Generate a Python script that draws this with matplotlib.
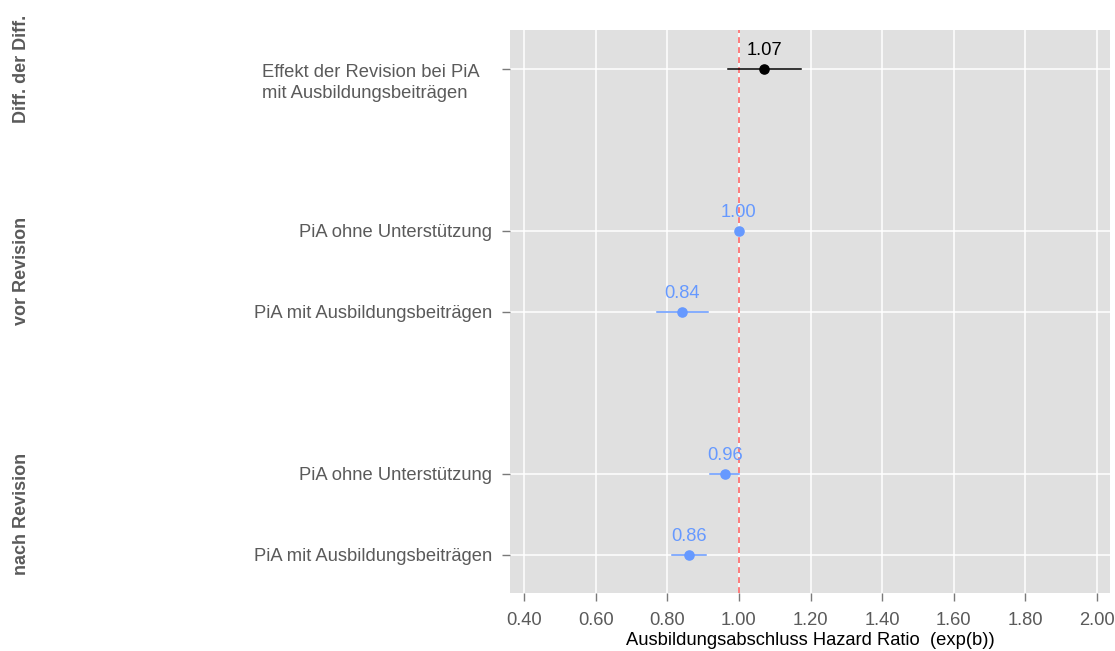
import matplotlib
matplotlib.use("Agg")
import matplotlib.pyplot as plt
import matplotlib.transforms as mtransforms

plt.rcParams["font.family"] = ["Liberation Sans", "DejaVu Sans"]

# Data
row_labels = [
    "PiA mit Ausbildungsbeiträgen",
    "PiA ohne Unterstützung",
    "PiA mit Ausbildungsbeiträgen",
    "PiA ohne Unterstützung",
    "Effekt der Revision bei PiA\nmit Ausbildungsbeiträgen",
]
row_pos = [0, 1, 3, 4, 6]
hazard_ratio = [0.86, 0.96, 0.84, 1.00, 1.07]
ci_low = [0.813, 0.92, 0.772, 0.997, 0.97]
ci_high = [0.909, 1.00, 0.914, 1.003, 1.174]
is_diff = [False, False, False, False, True]

group_names = ["nach Revision", "vor Revision", "Diff. der Diff."]
group_centers = [0.5, 3.5, 6.0]

xticks = [0.4, 0.6, 0.8, 1.0, 1.2, 1.4, 1.6, 1.8, 2.0]

BLUE = "#6699FF"
GRAY_TXT = "#5a5a5a"
FS = 13.2

fig = plt.figure(figsize=(11.15, 6.51), dpi=100)
ax = fig.add_axes([510 / 1115, 1 - 593 / 651, 600 / 1115, 563 / 651])
ax.set_facecolor("#E0E0E0")
for s in ax.spines.values():
    s.set_visible(False)

ax.set_xlim(0.361, 2.036)
ax.set_ylim(-0.47, 6.48)
ax.set_xticks(xticks)
ax.set_xticklabels([f"{v:.2f}" for v in xticks])
ax.set_yticks(row_pos)
ax.set_yticklabels(row_labels, multialignment="left", linespacing=1.3)
ax.grid(True, color="white", lw=1.1)
ax.set_axisbelow(True)
ax.tick_params(axis="both", colors="#7a7a7a", labelcolor=GRAY_TXT, labelsize=FS, length=6, width=1)
ax.tick_params(axis="y", pad=7)
ax.tick_params(axis="x", pad=8)

# multi-line label sits a bit lower and further left in the reference
ml = ax.get_yticklabels()[-1]
ml.set_transform(ml.get_transform() + mtransforms.ScaledTranslation(-12 / 100, -10 / 100, fig.dpi_scale_trans))

ax.axvline(1.0, color="#FF6666", lw=1.2, ls=(0, (3.5, 2.5)), zorder=2)

for y, hr, lo, hi, d in zip(row_pos, hazard_ratio, ci_low, ci_high, is_diff):
    c = "black" if d else BLUE
    ax.plot([lo, hi], [y, y], color=c, lw=1.1, zorder=3)
    ax.plot(hr, y, "o", color=c, ms=6.6, zorder=4)
    ax.text(hr, y + 0.12, f"{hr:.2f}", color=c, ha="center", va="bottom", fontsize=FS, zorder=5)

ax.set_xlabel("Ausbildungsabschluss Hazard Ratio  (exp(b))", fontsize=FS, color="black", labelpad=2)

for name, yc in zip(group_names, group_centers):
    yf = ax.transData.transform((0, yc))[1] / fig.bbox.height
    fig.text(22 / 1115, yf, name, rotation=90, ha="center", va="center",
             fontsize=13, fontweight="bold", color=GRAY_TXT)

fig.savefig("out.png", dpi=100)
